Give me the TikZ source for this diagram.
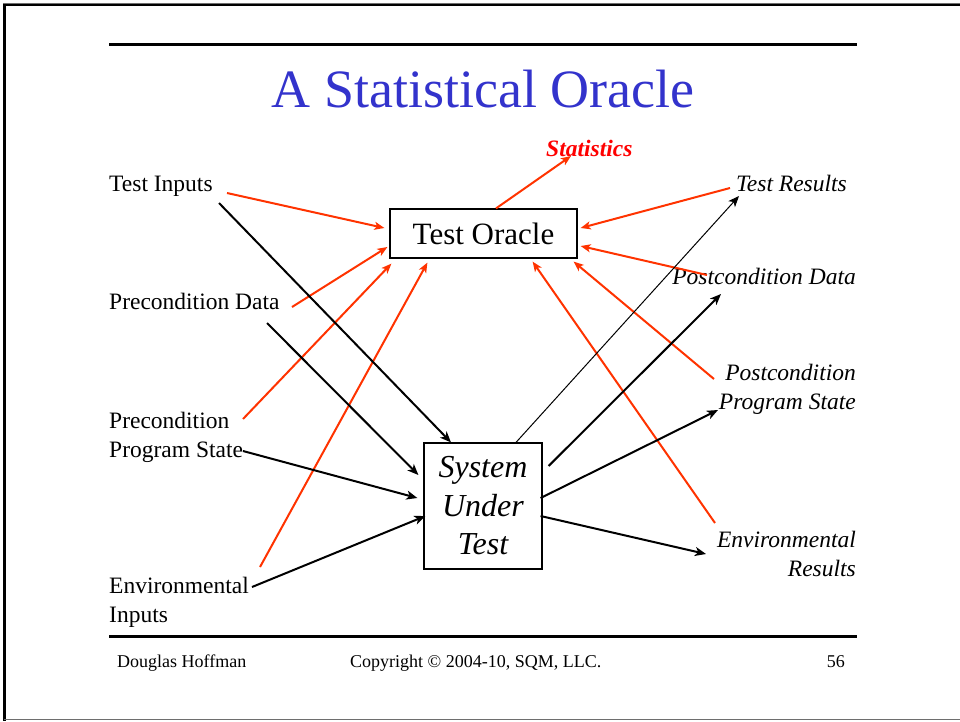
\documentclass[tikz,border=0pt]{standalone}
\usepackage{fontspec}
\setmainfont{Liberation Serif}
\usetikzlibrary{arrows.meta}
\definecolor{titleblue}{RGB}{51,51,204}
\definecolor{flowred}{RGB}{255,51,0}
\definecolor{framegray}{RGB}{110,110,110}

\begin{document}
\begin{tikzpicture}[x=1pt,y=-1pt,
  lbl/.style={inner sep=0pt, font=\fontsize{23.5}{29}\selectfont},
  ilbl/.style={inner sep=0pt, font=\fontsize{23.5}{28.5}\selectfont\itshape},
  foot/.style={inner sep=0pt, anchor=base, font=\fontsize{18}{20}\selectfont},
  boxnode/.style={draw=black, line width=1.2pt, inner sep=0pt},
  blk/.style={draw=black, line width=2pt, -{Stealth[length=11pt,width=9pt,inset=3pt]}},
  blkthin/.style={draw=black, line width=1pt, -{Stealth[length=11pt,width=9pt,inset=3pt]}},
  rd/.style={draw=flowred, line width=2pt, -{Stealth[length=10pt,width=8pt,inset=2.5pt]}}
]
\useasboundingbox (0,0) rectangle (960,721);

% slide frame
\draw[framegray, line width=1pt] (3,3) -- (960,3);
\draw[black, line width=2pt] (4,5) -- (960,5);
\draw[black, line width=2.5pt] (4.5,4) -- (4.5,721);
\draw[framegray, line width=1.5pt] (4,719.5) -- (960,719.5);

% rules and title
\draw[line width=3pt] (109,44) -- (857,44);
\draw[line width=3pt] (109,636) -- (857,636);
\node[inner sep=0pt, anchor=base, text=titleblue, font=\fontsize{54}{60}\selectfont] (title) at (483,107) {A Statistical Oracle};

% the two boxes
\node[boxnode, minimum width=187pt, minimum height=49pt, font=\fontsize{31}{36}\selectfont] (oracle) at (483.5,233.5) {Test Oracle};
\node[boxnode, minimum width=118pt, minimum height=126pt, align=center, font=\fontsize{32}{38.5}\selectfont\itshape] (sut) at (483,506) {System\\Under\\Test};

% labels on the input side (multi-line labels are placed by their last baseline)
\node[lbl, anchor=base west] (ti) at (109,191) {Test Inputs};
\node[lbl, anchor=base west] (pd) at (109,309) {Precondition Data};
\node[lbl, anchor=base west, align=left] (pps) at (109,457) {Precondition\\Program State};
\node[lbl, anchor=base west, align=left] (ei) at (109,622) {Environmental\\Inputs};

% labels on the output side
\node[ilbl, anchor=base east] (tr) at (847,191) {Test Results};
\node[ilbl, anchor=base east] (pcd) at (856,284) {Postcondition Data};
\node[ilbl, anchor=base east, align=right] (pcs) at (856,409) {Postcondition\\Program State};
\node[ilbl, anchor=base east, align=right] (er) at (856,576) {Environmental\\Results};
\node[inner sep=0pt, anchor=base west, text=red, font=\fontsize{23.5}{28}\selectfont\bfseries\itshape] (stat) at (546,156) {Statistics};

% footer
\node[foot, anchor=base west] (author) at (117,667) {Douglas Hoffman};
\node[foot, anchor=base west] (copy) at (350,667) {Copyright © 2004-10, SQM, LLC.};
\node[foot, anchor=base east] (page) at (845,667) {56};

% free ends of the connectors near the labels
\coordinate (tiR) at (227,193);
\coordinate (tiB) at (219,203);
\coordinate (pdR) at (292,307);
\coordinate (pdB) at (267,323);
\coordinate (ppsR) at (243,419);
\coordinate (ppsB) at (243,451);
\coordinate (eiR) at (260,567);
\coordinate (eiB) at (252,587);
\coordinate (statT) at (571,156);
\coordinate (trR) at (730,188);
\coordinate (trB) at (739,196);
\coordinate (pcdR) at (707,275);
\coordinate (pcdB) at (721,294);
\coordinate (pcsR) at (714,379);
\coordinate (pcsB) at (718,410);
\coordinate (erR) at (715,523);
\coordinate (erB) at (706,554);

% inputs into the oracle
\draw[rd] (tiR) -- ([shift={(-5,-5.5)}]oracle.west);
\draw[rd] (pdR) -- ([shift={(-2,13.5)}]oracle.west);
\draw[rd] (ppsR) -- ([shift={(2,5)}]oracle.south west);
\draw[rd] (eiR) -- ([shift={(38,4)}]oracle.south west);
\draw[rd] ([xshift=12.5pt]oracle.north) -- (statT);
\draw[rd] (trR) -- ([shift={(3,-5.5)}]oracle.east);
\draw[rd] (pcdR) -- ([shift={(3,12.5)}]oracle.east);
\draw[rd] (pcsR) -- ([shift={(-4,3)}]oracle.south east);
\draw[rd] (erR) -- ([shift={(-45,3)}]oracle.south east);

% inputs into the system under test
\draw[blk] (tiB) -- ([xshift=-32pt]sut.north);
\draw[blk] (pdB) -- ([shift={(-5,-31)}]sut.west);
\draw[blk] (ppsB) -- ([shift={(-6,-8)}]sut.west);
\draw[blk] (eiB) -- ([shift={(2,10)}]sut.west);

% outputs of the system under test
\draw[blkthin] ([xshift=33pt]sut.north) -- (trB);
\draw[blk] ([shift={(6,-40)}]sut.east) -- (pcdB);
\draw[blk] ([shift={(-2,-8)}]sut.east) -- (pcsB);
\draw[blk] ([shift={(-2,10)}]sut.east) -- (erB);
\end{tikzpicture}
\end{document}
